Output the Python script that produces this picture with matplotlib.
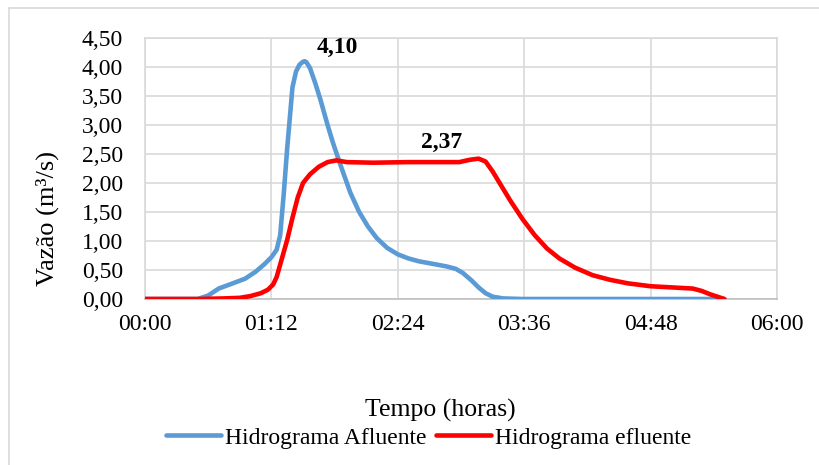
import matplotlib
matplotlib.use("Agg")
import matplotlib.pyplot as plt
from matplotlib.lines import Line2D

plt.rcParams["font.family"] = ["Liberation Serif", "DejaVu Serif"]

# time in minutes, flow in m3/s
t_afl = [0, 30, 36, 42, 50, 57, 63, 68, 72, 75, 77, 79, 81, 84, 86, 88, 90, 91, 92, 94, 97,
         100, 104, 107, 111, 117, 122, 127, 132, 138, 144, 150, 156, 165, 172, 177, 181, 186,
         190, 194, 198, 204, 215, 330]
q_afl = [0, 0, 0.06, 0.18, 0.27, 0.35, 0.47, 0.60, 0.72, 0.85, 1.10, 1.80, 2.60, 3.65, 3.92,
         4.04, 4.09, 4.10, 4.08, 3.98, 3.72, 3.43, 3.00, 2.70, 2.34, 1.83, 1.50, 1.25, 1.05,
         0.88, 0.77, 0.70, 0.65, 0.60, 0.56, 0.52, 0.45, 0.32, 0.20, 0.10, 0.04, 0.01, 0, 0]

t_efl = [0, 30, 45, 54, 60, 66, 70, 73, 75, 78, 81, 84, 87, 90, 94, 99, 104, 109, 115, 130,
         150, 170, 179, 185, 190, 194, 198, 202, 208, 215, 222, 229, 236, 245, 255, 265, 275,
         288, 300, 312, 317, 322, 326, 330]
q_efl = [0, 0, 0.01, 0.02, 0.05, 0.10, 0.16, 0.25, 0.38, 0.70, 1.02, 1.40, 1.75, 2.00, 2.15,
         2.28, 2.36, 2.39, 2.36, 2.35, 2.36, 2.36, 2.36, 2.40, 2.42, 2.37, 2.20, 2.00, 1.70,
         1.38, 1.10, 0.87, 0.70, 0.54, 0.41, 0.33, 0.27, 0.22, 0.20, 0.18, 0.14, 0.08, 0.04, 0]

x_ticks = [0, 72, 144, 216, 288, 360]
x_labels = ["00:00", "01:12", "02:24", "03:36", "04:48", "06:00"]
y_ticks = [0, 0.5, 1.0, 1.5, 2.0, 2.5, 3.0, 3.5, 4.0, 4.5]
peak_labels = ["4,10", "2,37"]

fig = plt.figure(figsize=(8.2, 4.65), dpi=100)
ax = fig.add_axes([145 / 820, 1 - 299 / 465, 632 / 820, 261 / 465])

ax.plot(t_afl, q_afl, color="#5b9bd5", lw=3.3, label="Hidrograma Afluente",
        solid_capstyle="round", solid_joinstyle="round", zorder=3)
ax.plot(t_efl, q_efl, color="#ff0000", lw=3.3, label="Hidrograma efluente",
        solid_capstyle="round", solid_joinstyle="round", zorder=4)

fig.text(337 / 820, 1 - 47 / 465, peak_labels[0], ha="center", va="center",
         fontsize=17, fontweight="bold")
fig.text(442 / 820, 1 - 142 / 465, peak_labels[1], ha="center", va="center",
         fontsize=17, fontweight="bold")

ax.set_xlim(0, 360)
ax.set_ylim(0, 4.5)
ax.set_xticks(x_ticks)
ax.set_xticklabels(x_labels)
ax.set_yticks(y_ticks)
ax.set_yticklabels([f"{v:.2f}".replace(".", ",") for v in y_ticks])
ax.tick_params(length=0, labelsize=17)
ax.tick_params(axis="y", pad=16)
ax.tick_params(axis="x", pad=11)
ax.grid(True, color="#d9d9d9", lw=1.2, zorder=0)
ax.set_axisbelow(True)
for s in ax.spines.values():
    s.set_color("#d9d9d9")
    s.set_linewidth(1.2)
ax.spines["bottom"].set_color("#bfbfbf")

fig.text(47 / 820, 1 - 218 / 465, "Vazão (m³/s)", rotation=90, ha="center", va="center",
         fontsize=19)
fig.text(440 / 820, 1 - 410 / 465, "Tempo (horas)", ha="center", va="center", fontsize=18.5)
fig.legend(loc="center", bbox_to_anchor=(429 / 820, 1 - 438 / 465), ncol=2, frameon=False,
           fontsize=17, handlelength=2.3, handletextpad=0.2, columnspacing=0.4,
           borderaxespad=0, borderpad=0)

# outer chart border (cropped at right and bottom)
fig.add_artist(Line2D([9.5 / 820, 9.5 / 820], [0, 1 - 8 / 465], transform=fig.transFigure,
                      color="#d9d9d9", lw=1.2))
fig.add_artist(Line2D([9.5 / 820, 1], [1 - 8 / 465, 1 - 8 / 465], transform=fig.transFigure,
                      color="#d9d9d9", lw=1.2))

fig.savefig("out.png", dpi=100)
